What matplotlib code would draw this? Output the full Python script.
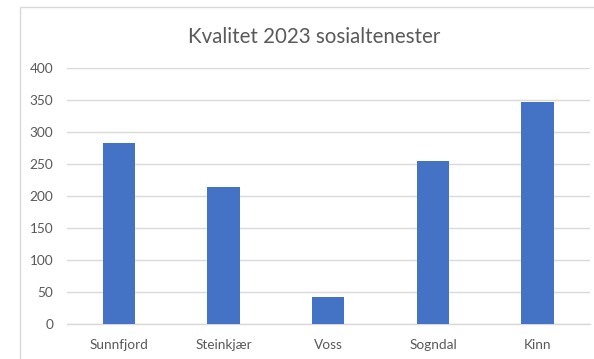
import matplotlib
matplotlib.use("Agg")
import matplotlib.pyplot as plt
from matplotlib.patches import Rectangle

categories = ["Sunnfjord", "Steinkjær", "Voss", "Sogndal", "Kinn"]
values = [283, 214, 42, 255, 347]
y_ticks = [0, 50, 100, 150, 200, 250, 300, 350, 400]
title = "Kvalitet 2023 sosialtenester"

plt.rcParams["font.family"] = ["Lato", "DejaVu Sans"]

fig = plt.figure(figsize=(5.94, 3.59), dpi=100)
fig.patch.set_facecolor("white")

# chart frame
fig.patches.append(Rectangle((20 / 594, -0.1), 1.2, (359 - 7) / 359 + 0.1,
                             transform=fig.transFigure, fill=False,
                             edgecolor="#d9d9d9", linewidth=1.0))

ax = fig.add_axes([66.5 / 594, 35.3 / 359, (590 - 66.5) / 594, (323.7 - 68.3) / 359])
x = range(len(categories))
ax.bar(x, values, width=0.31, color="#4472C4", zorder=3)

ax.set_xlim(-0.5, len(categories) - 0.5)
ax.set_ylim(0, 400)
ax.set_yticks(y_ticks)
ax.set_xticks(list(x))
ax.set_xticklabels(categories)
ax.grid(axis="y", color="#d9d9d9", linewidth=1.0, zorder=0)
ax.tick_params(axis="both", length=0, labelsize=9.8, labelcolor="#595959")
ax.tick_params(axis="y", pad=9.5)
ax.tick_params(axis="x", pad=11)
for s in ["top", "right", "left"]:
    ax.spines[s].set_visible(False)
ax.spines["bottom"].set_color("#d9d9d9")
ax.spines["bottom"].set_linewidth(1.0)

fig.text(314 / 594, 1 - 37 / 359, title, ha="center", va="center",
         fontsize=14.8, color="#595959")

fig.savefig("out.png", dpi=100)
